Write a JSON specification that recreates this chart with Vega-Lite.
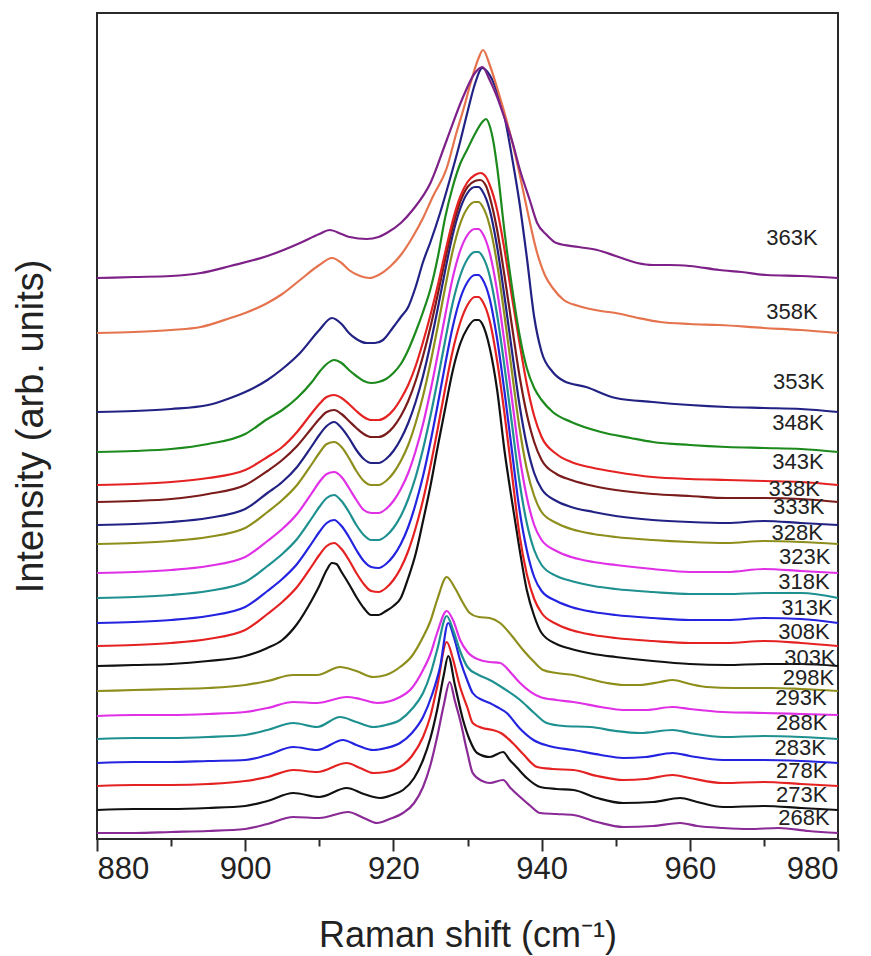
{
"$schema": "https://vega.github.io/schema/vega-lite/v6.json",
"width": 741, "height": 826,
"autosize": {"type": "none"},
"padding": {"left": 97, "top": 13, "right": 33, "bottom": 117},
"background": "white",
"config": {"view": {"stroke": "#2a2a2a", "strokeWidth": 2}, "font": "Liberation Sans"},
"datasets": {
"spectra": [
{"s":"268K","x":880,"y":6},{"s":"268K","x":885,"y":6},{"s":"268K","x":890,"y":7},{"s":"268K","x":895,"y":8},{"s":"268K","x":900,"y":10},{"s":"268K","x":903,"y":15},{"s":"268K","x":906.5,"y":22},{"s":"268K","x":910,"y":21},{"s":"268K","x":913.9,"y":27},{"s":"268K","x":916,"y":21},{"s":"268K","x":917.8,"y":16},{"s":"268K","x":919.5,"y":20},{"s":"268K","x":921.3,"y":26},{"s":"268K","x":922.8,"y":36},{"s":"268K","x":924,"y":52},{"s":"268K","x":925,"y":74},{"s":"268K","x":925.9,"y":102},{"s":"268K","x":926.8,"y":134},{"s":"268K","x":927.6,"y":157},{"s":"268K","x":928.3,"y":138},{"s":"268K","x":929,"y":119},{"s":"268K","x":930,"y":86},{"s":"268K","x":930.7,"y":66},{"s":"268K","x":932,"y":58},{"s":"268K","x":933,"y":56},{"s":"268K","x":934.8,"y":59},{"s":"268K","x":935.8,"y":51},{"s":"268K","x":937.1,"y":42},{"s":"268K","x":938.5,"y":33},{"s":"268K","x":939.8,"y":26},{"s":"268K","x":942,"y":25},{"s":"268K","x":944.3,"y":24},{"s":"268K","x":947.5,"y":17},{"s":"268K","x":951,"y":12},{"s":"268K","x":955,"y":13},{"s":"268K","x":958.7,"y":16},{"s":"268K","x":961,"y":13},{"s":"268K","x":964.5,"y":11},{"s":"268K","x":968,"y":10},{"s":"268K","x":972,"y":11},{"s":"268K","x":976,"y":8},{"s":"268K","x":980,"y":6},
{"s":"273K","x":880,"y":29},{"s":"273K","x":885,"y":30},{"s":"273K","x":890,"y":30},{"s":"273K","x":895,"y":31},{"s":"273K","x":900,"y":33},{"s":"273K","x":903,"y":38},{"s":"273K","x":906.5,"y":46},{"s":"273K","x":910,"y":42},{"s":"273K","x":913.7,"y":51},{"s":"273K","x":916,"y":45},{"s":"273K","x":918.2,"y":41},{"s":"273K","x":919.8,"y":44},{"s":"273K","x":921.3,"y":49},{"s":"273K","x":922.8,"y":61},{"s":"273K","x":924,"y":79},{"s":"273K","x":925,"y":101},{"s":"273K","x":925.9,"y":129},{"s":"273K","x":926.8,"y":164},{"s":"273K","x":927.4,"y":183},{"s":"273K","x":928.3,"y":154},{"s":"273K","x":929.4,"y":119},{"s":"273K","x":930.3,"y":99},{"s":"273K","x":931.3,"y":86},{"s":"273K","x":933,"y":82},{"s":"273K","x":934.8,"y":87},{"s":"273K","x":935.7,"y":79},{"s":"273K","x":936.6,"y":72},{"s":"273K","x":938,"y":61},{"s":"273K","x":939.8,"y":52},{"s":"273K","x":942,"y":50},{"s":"273K","x":944.3,"y":49},{"s":"273K","x":947.5,"y":41},{"s":"273K","x":951,"y":36},{"s":"273K","x":955,"y":37},{"s":"273K","x":958.7,"y":41},{"s":"273K","x":961,"y":37},{"s":"273K","x":964.5,"y":32},{"s":"273K","x":970,"y":33},{"s":"273K","x":975,"y":31},{"s":"273K","x":980,"y":29},
{"s":"278K","x":880,"y":53},{"s":"278K","x":885,"y":54},{"s":"278K","x":890,"y":54},{"s":"278K","x":895,"y":55},{"s":"278K","x":900,"y":58},{"s":"278K","x":903,"y":62},{"s":"278K","x":906.5,"y":69},{"s":"278K","x":909.7,"y":67},{"s":"278K","x":913.7,"y":76},{"s":"278K","x":915.5,"y":71},{"s":"278K","x":917.3,"y":66},{"s":"278K","x":919,"y":67},{"s":"278K","x":920.9,"y":72},{"s":"278K","x":922.5,"y":83},{"s":"278K","x":924,"y":102},{"s":"278K","x":925,"y":123},{"s":"278K","x":925.9,"y":152},{"s":"278K","x":927.2,"y":197},{"s":"278K","x":928,"y":181},{"s":"278K","x":929,"y":152},{"s":"278K","x":930,"y":131},{"s":"278K","x":930.7,"y":116},{"s":"278K","x":932,"y":111},{"s":"278K","x":933.4,"y":109},{"s":"278K","x":934.5,"y":106},{"s":"278K","x":936.1,"y":96},{"s":"278K","x":937.5,"y":85},{"s":"278K","x":939.4,"y":72},{"s":"278K","x":941.5,"y":70},{"s":"278K","x":944.3,"y":69},{"s":"278K","x":947.5,"y":63},{"s":"278K","x":951,"y":59},{"s":"278K","x":954,"y":60},{"s":"278K","x":957.7,"y":64},{"s":"278K","x":960,"y":61},{"s":"278K","x":964.5,"y":56},{"s":"278K","x":970,"y":57},{"s":"278K","x":975,"y":55},{"s":"278K","x":980,"y":53},
{"s":"283K","x":880,"y":76},{"s":"283K","x":885,"y":77},{"s":"283K","x":890,"y":77},{"s":"283K","x":895,"y":78},{"s":"283K","x":900,"y":79},{"s":"283K","x":903,"y":84},{"s":"283K","x":906.5,"y":92},{"s":"283K","x":909.7,"y":89},{"s":"283K","x":913.2,"y":99},{"s":"283K","x":915,"y":94},{"s":"283K","x":917.3,"y":89},{"s":"283K","x":919,"y":91},{"s":"283K","x":920.9,"y":96},{"s":"283K","x":922.5,"y":106},{"s":"283K","x":924,"y":122},{"s":"283K","x":925.2,"y":144},{"s":"283K","x":926.3,"y":172},{"s":"283K","x":927.4,"y":216},{"s":"283K","x":928.2,"y":201},{"s":"283K","x":929,"y":179},{"s":"283K","x":930,"y":158},{"s":"283K","x":930.7,"y":146},{"s":"283K","x":932,"y":139},{"s":"283K","x":933,"y":136},{"s":"283K","x":934,"y":132},{"s":"283K","x":935.3,"y":126},{"s":"283K","x":937,"y":111},{"s":"283K","x":938.9,"y":99},{"s":"283K","x":941,"y":93},{"s":"283K","x":944.3,"y":89},{"s":"283K","x":948,"y":84},{"s":"283K","x":951,"y":81},{"s":"283K","x":954,"y":82},{"s":"283K","x":957.7,"y":86},{"s":"283K","x":960,"y":83},{"s":"283K","x":964.5,"y":79},{"s":"283K","x":970,"y":79},{"s":"283K","x":975,"y":78},{"s":"283K","x":980,"y":76},
{"s":"288K","x":880,"y":100},{"s":"288K","x":885,"y":101},{"s":"288K","x":890,"y":101},{"s":"288K","x":895,"y":102},{"s":"288K","x":900,"y":104},{"s":"288K","x":903,"y":109},{"s":"288K","x":906.5,"y":116},{"s":"288K","x":909.7,"y":112},{"s":"288K","x":912.8,"y":122},{"s":"288K","x":915,"y":117},{"s":"288K","x":917.3,"y":112},{"s":"288K","x":919,"y":114},{"s":"288K","x":920.9,"y":119},{"s":"288K","x":922.5,"y":130},{"s":"288K","x":924,"y":146},{"s":"288K","x":925,"y":165},{"s":"288K","x":925.9,"y":189},{"s":"288K","x":927.2,"y":223},{"s":"288K","x":928.1,"y":208},{"s":"288K","x":929,"y":188},{"s":"288K","x":930,"y":172},{"s":"288K","x":931.5,"y":164},{"s":"288K","x":933,"y":159},{"s":"288K","x":935,"y":150},{"s":"288K","x":937.1,"y":139},{"s":"288K","x":939,"y":126},{"s":"288K","x":940.7,"y":116},{"s":"288K","x":943,"y":113},{"s":"288K","x":946.6,"y":112},{"s":"288K","x":950,"y":108},{"s":"288K","x":953.3,"y":106},{"s":"288K","x":957.7,"y":109},{"s":"288K","x":960,"y":106},{"s":"288K","x":964.5,"y":102},{"s":"288K","x":970,"y":103},{"s":"288K","x":975,"y":102},{"s":"288K","x":980,"y":100},
{"s":"293K","x":880,"y":123},{"s":"293K","x":885,"y":124},{"s":"293K","x":890,"y":124},{"s":"293K","x":895,"y":125},{"s":"293K","x":900,"y":127},{"s":"293K","x":903,"y":131},{"s":"293K","x":906.5,"y":137},{"s":"293K","x":909.7,"y":136},{"s":"293K","x":913.7,"y":142},{"s":"293K","x":915.5,"y":140},{"s":"293K","x":917.8,"y":136},{"s":"293K","x":920.9,"y":142},{"s":"293K","x":922.5,"y":151},{"s":"293K","x":924,"y":169},{"s":"293K","x":925,"y":185},{"s":"293K","x":925.9,"y":206},{"s":"293K","x":927.2,"y":228},{"s":"293K","x":928.1,"y":218},{"s":"293K","x":929,"y":199},{"s":"293K","x":930,"y":187},{"s":"293K","x":931.7,"y":179},{"s":"293K","x":933,"y":177},{"s":"293K","x":934.4,"y":176},{"s":"293K","x":936,"y":165},{"s":"293K","x":937.1,"y":156},{"s":"293K","x":939.8,"y":142},{"s":"293K","x":942,"y":139},{"s":"293K","x":944.3,"y":137},{"s":"293K","x":948,"y":132},{"s":"293K","x":951,"y":129},{"s":"293K","x":954,"y":129},{"s":"293K","x":957.7,"y":132},{"s":"293K","x":960,"y":130},{"s":"293K","x":964.5,"y":127},{"s":"293K","x":970,"y":126},{"s":"293K","x":975,"y":125},{"s":"293K","x":980,"y":124},
{"s":"298K","x":880,"y":148},{"s":"298K","x":885,"y":149},{"s":"298K","x":890,"y":150},{"s":"298K","x":895,"y":151},{"s":"298K","x":900,"y":154},{"s":"298K","x":903,"y":158},{"s":"298K","x":906.5,"y":164},{"s":"298K","x":909.7,"y":164},{"s":"298K","x":912.8,"y":172},{"s":"298K","x":915,"y":168},{"s":"298K","x":917.3,"y":162},{"s":"298K","x":919,"y":164},{"s":"298K","x":920.9,"y":172},{"s":"298K","x":922.5,"y":183},{"s":"298K","x":924,"y":202},{"s":"298K","x":925,"y":218},{"s":"298K","x":925.9,"y":239},{"s":"298K","x":927.2,"y":262},{"s":"298K","x":928.3,"y":251},{"s":"298K","x":929.4,"y":236},{"s":"298K","x":930.3,"y":226},{"s":"298K","x":931.5,"y":222},{"s":"298K","x":933,"y":221},{"s":"298K","x":934.4,"y":216},{"s":"298K","x":936,"y":203},{"s":"298K","x":937.5,"y":189},{"s":"298K","x":939,"y":177},{"s":"298K","x":940.2,"y":169},{"s":"298K","x":942,"y":166},{"s":"298K","x":944.3,"y":164},{"s":"298K","x":946.5,"y":160},{"s":"298K","x":948.8,"y":156},{"s":"298K","x":951,"y":154},{"s":"298K","x":953.3,"y":154},{"s":"298K","x":956,"y":157},{"s":"298K","x":957.7,"y":159},{"s":"298K","x":960,"y":155},{"s":"298K","x":962.3,"y":152},{"s":"298K","x":966,"y":151},{"s":"298K","x":971,"y":151},{"s":"298K","x":975,"y":150},{"s":"298K","x":980,"y":148},
{"s":"303K","x":880,"y":173},{"s":"303K","x":885,"y":174},{"s":"303K","x":890,"y":175},{"s":"303K","x":895,"y":178},{"s":"303K","x":900,"y":183},{"s":"303K","x":903,"y":191},{"s":"303K","x":905,"y":199},{"s":"303K","x":907,"y":215},{"s":"303K","x":909,"y":239},{"s":"303K","x":910,"y":253},{"s":"303K","x":911,"y":269},{"s":"303K","x":911.7,"y":276},{"s":"303K","x":912.3,"y":275},{"s":"303K","x":913,"y":267},{"s":"303K","x":914,"y":255},{"s":"303K","x":915,"y":242},{"s":"303K","x":916,"y":231},{"s":"303K","x":917,"y":224},{"s":"303K","x":918,"y":224},{"s":"303K","x":919,"y":228},{"s":"303K","x":920,"y":233},{"s":"303K","x":921,"y":241},{"s":"303K","x":922,"y":261},{"s":"303K","x":923,"y":285},{"s":"303K","x":924,"y":318},{"s":"303K","x":925,"y":353},{"s":"303K","x":926,"y":393},{"s":"303K","x":927,"y":431},{"s":"303K","x":928,"y":468},{"s":"303K","x":929,"y":495},{"s":"303K","x":930,"y":511},{"s":"303K","x":931,"y":519},{"s":"303K","x":931.5,"y":519},{"s":"303K","x":932,"y":515},{"s":"303K","x":933,"y":491},{"s":"303K","x":934,"y":449},{"s":"303K","x":935,"y":388},{"s":"303K","x":936,"y":338},{"s":"303K","x":937,"y":291},{"s":"303K","x":938,"y":249},{"s":"303K","x":939,"y":223},{"s":"303K","x":940,"y":206},{"s":"303K","x":942,"y":195},{"s":"303K","x":944,"y":190},{"s":"303K","x":947,"y":185},{"s":"303K","x":950,"y":182},{"s":"303K","x":955,"y":178},{"s":"303K","x":960,"y":175},{"s":"303K","x":965,"y":174},{"s":"303K","x":970,"y":175},{"s":"303K","x":975,"y":175},{"s":"303K","x":980,"y":173},
{"s":"308K","x":880,"y":193},{"s":"308K","x":885,"y":194},{"s":"308K","x":890,"y":196},{"s":"308K","x":895,"y":200},{"s":"308K","x":900,"y":209},{"s":"308K","x":903,"y":225},{"s":"308K","x":905,"y":237},{"s":"308K","x":907,"y":252},{"s":"308K","x":909,"y":273},{"s":"308K","x":910,"y":284},{"s":"308K","x":911,"y":293},{"s":"308K","x":912,"y":296},{"s":"308K","x":913,"y":290},{"s":"308K","x":914,"y":279},{"s":"308K","x":915,"y":266},{"s":"308K","x":916,"y":255},{"s":"308K","x":917,"y":248},{"s":"308K","x":918,"y":247},{"s":"308K","x":919,"y":251},{"s":"308K","x":920,"y":259},{"s":"308K","x":921,"y":271},{"s":"308K","x":922,"y":288},{"s":"308K","x":923,"y":311},{"s":"308K","x":924,"y":339},{"s":"308K","x":925,"y":373},{"s":"308K","x":926,"y":411},{"s":"308K","x":927,"y":451},{"s":"308K","x":928,"y":488},{"s":"308K","x":929,"y":516},{"s":"308K","x":930,"y":534},{"s":"308K","x":931,"y":542},{"s":"308K","x":931.5,"y":542},{"s":"308K","x":932,"y":538},{"s":"308K","x":933,"y":518},{"s":"308K","x":934,"y":478},{"s":"308K","x":935,"y":425},{"s":"308K","x":936,"y":365},{"s":"308K","x":937,"y":305},{"s":"308K","x":938,"y":265},{"s":"308K","x":939,"y":240},{"s":"308K","x":940,"y":226},{"s":"308K","x":942,"y":215},{"s":"308K","x":944,"y":209},{"s":"308K","x":947,"y":204},{"s":"308K","x":950,"y":201},{"s":"308K","x":955,"y":198},{"s":"308K","x":960,"y":196},{"s":"308K","x":965,"y":196},{"s":"308K","x":970,"y":198},{"s":"308K","x":975,"y":196},{"s":"308K","x":980,"y":193},
{"s":"313K","x":880,"y":216},{"s":"313K","x":885,"y":217},{"s":"313K","x":890,"y":219},{"s":"313K","x":895,"y":223},{"s":"313K","x":900,"y":232},{"s":"313K","x":903,"y":248},{"s":"313K","x":905,"y":260},{"s":"313K","x":907,"y":275},{"s":"313K","x":909,"y":296},{"s":"313K","x":910,"y":307},{"s":"313K","x":911,"y":316},{"s":"313K","x":912,"y":319},{"s":"313K","x":913,"y":313},{"s":"313K","x":914,"y":302},{"s":"313K","x":915,"y":289},{"s":"313K","x":916,"y":278},{"s":"313K","x":917,"y":272},{"s":"313K","x":918,"y":271},{"s":"313K","x":919,"y":275},{"s":"313K","x":920,"y":283},{"s":"313K","x":921,"y":295},{"s":"313K","x":922,"y":312},{"s":"313K","x":923,"y":335},{"s":"313K","x":924,"y":363},{"s":"313K","x":925,"y":397},{"s":"313K","x":926,"y":435},{"s":"313K","x":927,"y":475},{"s":"313K","x":928,"y":512},{"s":"313K","x":929,"y":540},{"s":"313K","x":930,"y":557},{"s":"313K","x":931,"y":564},{"s":"313K","x":931.5,"y":564},{"s":"313K","x":932,"y":560},{"s":"313K","x":933,"y":540},{"s":"313K","x":934,"y":500},{"s":"313K","x":935,"y":447},{"s":"313K","x":936,"y":388},{"s":"313K","x":937,"y":330},{"s":"313K","x":938,"y":289},{"s":"313K","x":939,"y":262},{"s":"313K","x":940,"y":248},{"s":"313K","x":942,"y":238},{"s":"313K","x":944,"y":232},{"s":"313K","x":947,"y":227},{"s":"313K","x":950,"y":224},{"s":"313K","x":955,"y":221},{"s":"313K","x":960,"y":219},{"s":"313K","x":965,"y":219},{"s":"313K","x":970,"y":221},{"s":"313K","x":975,"y":220},{"s":"313K","x":980,"y":216},
{"s":"318K","x":880,"y":241},{"s":"318K","x":885,"y":242},{"s":"318K","x":890,"y":244},{"s":"318K","x":895,"y":248},{"s":"318K","x":900,"y":257},{"s":"318K","x":903,"y":273},{"s":"318K","x":905,"y":285},{"s":"318K","x":907,"y":300},{"s":"318K","x":909,"y":321},{"s":"318K","x":910,"y":332},{"s":"318K","x":911,"y":341},{"s":"318K","x":912,"y":344},{"s":"318K","x":913,"y":338},{"s":"318K","x":914,"y":327},{"s":"318K","x":915,"y":314},{"s":"318K","x":916,"y":304},{"s":"318K","x":917,"y":299},{"s":"318K","x":918,"y":299},{"s":"318K","x":919,"y":303},{"s":"318K","x":920,"y":311},{"s":"318K","x":921,"y":323},{"s":"318K","x":922,"y":340},{"s":"318K","x":923,"y":362},{"s":"318K","x":924,"y":390},{"s":"318K","x":925,"y":423},{"s":"318K","x":926,"y":460},{"s":"318K","x":927,"y":499},{"s":"318K","x":928,"y":536},{"s":"318K","x":929,"y":563},{"s":"318K","x":930,"y":580},{"s":"318K","x":931,"y":587},{"s":"318K","x":931.5,"y":587},{"s":"318K","x":932,"y":583},{"s":"318K","x":933,"y":563},{"s":"318K","x":934,"y":524},{"s":"318K","x":935,"y":472},{"s":"318K","x":936,"y":415},{"s":"318K","x":937,"y":358},{"s":"318K","x":938,"y":316},{"s":"318K","x":939,"y":289},{"s":"318K","x":940,"y":274},{"s":"318K","x":942,"y":263},{"s":"318K","x":944,"y":258},{"s":"318K","x":947,"y":253},{"s":"318K","x":950,"y":250},{"s":"318K","x":955,"y":247},{"s":"318K","x":960,"y":245},{"s":"318K","x":965,"y":245},{"s":"318K","x":970,"y":246},{"s":"318K","x":975,"y":246},{"s":"318K","x":980,"y":241},
{"s":"323K","x":880,"y":266},{"s":"323K","x":885,"y":267},{"s":"323K","x":890,"y":269},{"s":"323K","x":895,"y":273},{"s":"323K","x":900,"y":282},{"s":"323K","x":903,"y":298},{"s":"323K","x":905,"y":310},{"s":"323K","x":907,"y":325},{"s":"323K","x":909,"y":346},{"s":"323K","x":910,"y":357},{"s":"323K","x":911,"y":365},{"s":"323K","x":912,"y":367},{"s":"323K","x":913,"y":362},{"s":"323K","x":914,"y":351},{"s":"323K","x":915,"y":339},{"s":"323K","x":916,"y":329},{"s":"323K","x":917,"y":326},{"s":"323K","x":918,"y":326},{"s":"323K","x":919,"y":330},{"s":"323K","x":920,"y":338},{"s":"323K","x":921,"y":350},{"s":"323K","x":922,"y":366},{"s":"323K","x":923,"y":388},{"s":"323K","x":924,"y":415},{"s":"323K","x":925,"y":448},{"s":"323K","x":926,"y":485},{"s":"323K","x":927,"y":524},{"s":"323K","x":928,"y":561},{"s":"323K","x":929,"y":588},{"s":"323K","x":930,"y":604},{"s":"323K","x":931,"y":610},{"s":"323K","x":931.5,"y":610},{"s":"323K","x":932,"y":606},{"s":"323K","x":933,"y":586},{"s":"323K","x":934,"y":548},{"s":"323K","x":935,"y":496},{"s":"323K","x":936,"y":440},{"s":"323K","x":937,"y":384},{"s":"323K","x":938,"y":342},{"s":"323K","x":939,"y":314},{"s":"323K","x":940,"y":299},{"s":"323K","x":942,"y":288},{"s":"323K","x":944,"y":282},{"s":"323K","x":947,"y":277},{"s":"323K","x":950,"y":274},{"s":"323K","x":955,"y":270},{"s":"323K","x":960,"y":267},{"s":"323K","x":965,"y":267},{"s":"323K","x":970,"y":270},{"s":"323K","x":975,"y":268},{"s":"323K","x":980,"y":266},
{"s":"328K","x":880,"y":295},{"s":"328K","x":885,"y":296},{"s":"328K","x":890,"y":298},{"s":"328K","x":895,"y":302},{"s":"328K","x":900,"y":311},{"s":"328K","x":903,"y":327},{"s":"328K","x":905,"y":339},{"s":"328K","x":907,"y":354},{"s":"328K","x":909,"y":375},{"s":"328K","x":910,"y":386},{"s":"328K","x":911,"y":395},{"s":"328K","x":912,"y":397},{"s":"328K","x":913,"y":392},{"s":"328K","x":914,"y":381},{"s":"328K","x":915,"y":368},{"s":"328K","x":916,"y":358},{"s":"328K","x":917,"y":354},{"s":"328K","x":918,"y":354},{"s":"328K","x":919,"y":358},{"s":"328K","x":920,"y":366},{"s":"328K","x":921,"y":378},{"s":"328K","x":922,"y":394},{"s":"328K","x":923,"y":416},{"s":"328K","x":924,"y":443},{"s":"328K","x":925,"y":476},{"s":"328K","x":926,"y":513},{"s":"328K","x":927,"y":552},{"s":"328K","x":928,"y":588},{"s":"328K","x":929,"y":615},{"s":"328K","x":930,"y":631},{"s":"328K","x":931,"y":637},{"s":"328K","x":931.5,"y":637},{"s":"328K","x":932,"y":633},{"s":"328K","x":933,"y":613},{"s":"328K","x":934,"y":575},{"s":"328K","x":935,"y":523},{"s":"328K","x":936,"y":467},{"s":"328K","x":937,"y":412},{"s":"328K","x":938,"y":370},{"s":"328K","x":939,"y":343},{"s":"328K","x":940,"y":327},{"s":"328K","x":942,"y":316},{"s":"328K","x":944,"y":310},{"s":"328K","x":947,"y":305},{"s":"328K","x":950,"y":302},{"s":"328K","x":955,"y":299},{"s":"328K","x":960,"y":297},{"s":"328K","x":965,"y":296},{"s":"328K","x":970,"y":298},{"s":"328K","x":975,"y":297},{"s":"328K","x":980,"y":295},
{"s":"333K","x":880,"y":314},{"s":"333K","x":885,"y":315},{"s":"333K","x":890,"y":317},{"s":"333K","x":895,"y":321},{"s":"333K","x":900,"y":330},{"s":"333K","x":903,"y":346},{"s":"333K","x":905,"y":357},{"s":"333K","x":907,"y":372},{"s":"333K","x":909,"y":393},{"s":"333K","x":910,"y":404},{"s":"333K","x":911,"y":413},{"s":"333K","x":912,"y":417},{"s":"333K","x":913,"y":411},{"s":"333K","x":914,"y":401},{"s":"333K","x":915,"y":389},{"s":"333K","x":916,"y":380},{"s":"333K","x":917,"y":376},{"s":"333K","x":918,"y":376},{"s":"333K","x":919,"y":380},{"s":"333K","x":920,"y":388},{"s":"333K","x":921,"y":400},{"s":"333K","x":922,"y":416},{"s":"333K","x":923,"y":437},{"s":"333K","x":924,"y":463},{"s":"333K","x":925,"y":495},{"s":"333K","x":926,"y":531},{"s":"333K","x":927,"y":569},{"s":"333K","x":928,"y":604},{"s":"333K","x":929,"y":630},{"s":"333K","x":930,"y":646},{"s":"333K","x":931,"y":652},{"s":"333K","x":931.5,"y":652},{"s":"333K","x":932,"y":648},{"s":"333K","x":933,"y":629},{"s":"333K","x":934,"y":592},{"s":"333K","x":935,"y":542},{"s":"333K","x":936,"y":488},{"s":"333K","x":937,"y":435},{"s":"333K","x":938,"y":394},{"s":"333K","x":939,"y":366},{"s":"333K","x":940,"y":350},{"s":"333K","x":942,"y":338},{"s":"333K","x":944,"y":332},{"s":"333K","x":947,"y":327},{"s":"333K","x":950,"y":323},{"s":"333K","x":955,"y":319},{"s":"333K","x":960,"y":317},{"s":"333K","x":965,"y":316},{"s":"333K","x":970,"y":318},{"s":"333K","x":975,"y":316},{"s":"333K","x":980,"y":314},
{"s":"338K","x":880,"y":337},{"s":"338K","x":885,"y":338},{"s":"338K","x":890,"y":340},{"s":"338K","x":895,"y":345},{"s":"338K","x":900,"y":354},{"s":"338K","x":903,"y":368},{"s":"338K","x":905,"y":379},{"s":"338K","x":907,"y":393},{"s":"338K","x":909,"y":411},{"s":"338K","x":910,"y":420},{"s":"338K","x":911,"y":427},{"s":"338K","x":912,"y":429},{"s":"338K","x":913,"y":425},{"s":"338K","x":914,"y":418},{"s":"338K","x":915,"y":411},{"s":"338K","x":916,"y":405},{"s":"338K","x":917,"y":402},{"s":"338K","x":918,"y":402},{"s":"338K","x":919,"y":405},{"s":"338K","x":920,"y":412},{"s":"338K","x":921,"y":423},{"s":"338K","x":922,"y":438},{"s":"338K","x":923,"y":458},{"s":"338K","x":924,"y":483},{"s":"338K","x":925,"y":512},{"s":"338K","x":926,"y":545},{"s":"338K","x":927,"y":580},{"s":"338K","x":928,"y":612},{"s":"338K","x":929,"y":637},{"s":"338K","x":930,"y":652},{"s":"338K","x":931,"y":658},{"s":"338K","x":931.7,"y":659},{"s":"338K","x":932.5,"y":653},{"s":"338K","x":933,"y":642},{"s":"338K","x":934,"y":609},{"s":"338K","x":935,"y":563},{"s":"338K","x":936,"y":513},{"s":"338K","x":937,"y":464},{"s":"338K","x":938,"y":425},{"s":"338K","x":939,"y":397},{"s":"338K","x":940,"y":379},{"s":"338K","x":942,"y":365},{"s":"338K","x":944,"y":359},{"s":"338K","x":947,"y":353},{"s":"338K","x":950,"y":349},{"s":"338K","x":955,"y":345},{"s":"338K","x":960,"y":343},{"s":"338K","x":965,"y":341},{"s":"338K","x":970,"y":341},{"s":"338K","x":975,"y":340},{"s":"338K","x":980,"y":337},
{"s":"343K","x":880,"y":354},{"s":"343K","x":885,"y":355},{"s":"343K","x":890,"y":357},{"s":"343K","x":895,"y":361},{"s":"343K","x":900,"y":369},{"s":"343K","x":903,"y":382},{"s":"343K","x":905,"y":392},{"s":"343K","x":907,"y":407},{"s":"343K","x":909,"y":426},{"s":"343K","x":910,"y":435},{"s":"343K","x":911,"y":442},{"s":"343K","x":912,"y":444},{"s":"343K","x":913,"y":441},{"s":"343K","x":914,"y":435},{"s":"343K","x":915,"y":428},{"s":"343K","x":916,"y":422},{"s":"343K","x":917,"y":419},{"s":"343K","x":918,"y":419},{"s":"343K","x":919,"y":422},{"s":"343K","x":920,"y":429},{"s":"343K","x":921,"y":440},{"s":"343K","x":922,"y":454},{"s":"343K","x":923,"y":473},{"s":"343K","x":924,"y":497},{"s":"343K","x":925,"y":524},{"s":"343K","x":926,"y":554},{"s":"343K","x":927,"y":587},{"s":"343K","x":928,"y":618},{"s":"343K","x":929,"y":642},{"s":"343K","x":930,"y":657},{"s":"343K","x":931,"y":664},{"s":"343K","x":931.8,"y":666},{"s":"343K","x":932.5,"y":662},{"s":"343K","x":933,"y":654},{"s":"343K","x":934,"y":629},{"s":"343K","x":935,"y":589},{"s":"343K","x":936,"y":542},{"s":"343K","x":937,"y":497},{"s":"343K","x":938,"y":455},{"s":"343K","x":939,"y":423},{"s":"343K","x":940,"y":402},{"s":"343K","x":942,"y":385},{"s":"343K","x":944,"y":377},{"s":"343K","x":947,"y":371},{"s":"343K","x":950,"y":367},{"s":"343K","x":955,"y":362},{"s":"343K","x":960,"y":360},{"s":"343K","x":965,"y":359},{"s":"343K","x":970,"y":358},{"s":"343K","x":975,"y":357},{"s":"343K","x":980,"y":354},
{"s":"348K","x":880,"y":387},{"s":"348K","x":885,"y":388},{"s":"348K","x":890,"y":390},{"s":"348K","x":895,"y":395},{"s":"348K","x":900,"y":405},{"s":"348K","x":903,"y":420},{"s":"348K","x":905,"y":429},{"s":"348K","x":907,"y":441},{"s":"348K","x":909,"y":457},{"s":"348K","x":910,"y":467},{"s":"348K","x":911,"y":475},{"s":"348K","x":912,"y":479},{"s":"348K","x":913,"y":476},{"s":"348K","x":914,"y":469},{"s":"348K","x":915,"y":463},{"s":"348K","x":916,"y":458},{"s":"348K","x":917,"y":456},{"s":"348K","x":918,"y":457},{"s":"348K","x":919,"y":460},{"s":"348K","x":920,"y":466},{"s":"348K","x":921,"y":475},{"s":"348K","x":922,"y":489},{"s":"348K","x":923,"y":507},{"s":"348K","x":924,"y":527},{"s":"348K","x":925,"y":550},{"s":"348K","x":926,"y":582},{"s":"348K","x":927,"y":622},{"s":"348K","x":928,"y":652},{"s":"348K","x":929,"y":675},{"s":"348K","x":930,"y":690},{"s":"348K","x":931,"y":705},{"s":"348K","x":932,"y":717},{"s":"348K","x":932.5,"y":720},{"s":"348K","x":933,"y":713},{"s":"348K","x":933.5,"y":697},{"s":"348K","x":934,"y":672},{"s":"348K","x":935,"y":607},{"s":"348K","x":936,"y":552},{"s":"348K","x":937,"y":505},{"s":"348K","x":938,"y":471},{"s":"348K","x":939,"y":451},{"s":"348K","x":940,"y":439},{"s":"348K","x":941.5,"y":427},{"s":"348K","x":944,"y":417},{"s":"348K","x":948,"y":407},{"s":"348K","x":952,"y":401},{"s":"348K","x":955,"y":397},{"s":"348K","x":960,"y":394},{"s":"348K","x":965,"y":392},{"s":"348K","x":970,"y":391},{"s":"348K","x":975,"y":390},{"s":"348K","x":980,"y":387},
{"s":"353K","x":880,"y":427},{"s":"353K","x":885,"y":428},{"s":"353K","x":890,"y":430},{"s":"353K","x":895,"y":434},{"s":"353K","x":898,"y":441},{"s":"353K","x":900,"y":447},{"s":"353K","x":903,"y":459},{"s":"353K","x":905,"y":470},{"s":"353K","x":907.4,"y":486},{"s":"353K","x":910,"y":509},{"s":"353K","x":911.7,"y":521},{"s":"353K","x":913,"y":515},{"s":"353K","x":914,"y":506},{"s":"353K","x":915,"y":500},{"s":"353K","x":916.4,"y":496},{"s":"353K","x":917.5,"y":496},{"s":"353K","x":918.6,"y":499},{"s":"353K","x":920,"y":512},{"s":"353K","x":921,"y":522},{"s":"353K","x":922,"y":532},{"s":"353K","x":923,"y":552},{"s":"353K","x":924,"y":577},{"s":"353K","x":925,"y":597},{"s":"353K","x":926.3,"y":626},{"s":"353K","x":927.6,"y":659},{"s":"353K","x":929,"y":697},{"s":"353K","x":930,"y":727},{"s":"353K","x":931,"y":755},{"s":"353K","x":932,"y":771},{"s":"353K","x":933,"y":764},{"s":"353K","x":934,"y":747},{"s":"353K","x":935,"y":722},{"s":"353K","x":936,"y":682},{"s":"353K","x":937,"y":637},{"s":"353K","x":938,"y":582},{"s":"353K","x":939,"y":522},{"s":"353K","x":940,"y":487},{"s":"353K","x":941.5,"y":467},{"s":"353K","x":943,"y":458},{"s":"353K","x":946,"y":452},{"s":"353K","x":950,"y":441},{"s":"353K","x":955,"y":437},{"s":"353K","x":960,"y":434},{"s":"353K","x":965,"y":432},{"s":"353K","x":970,"y":431},{"s":"353K","x":975,"y":430},{"s":"353K","x":980,"y":427},
{"s":"358K","x":880,"y":506},{"s":"358K","x":885,"y":507},{"s":"358K","x":890,"y":509},{"s":"358K","x":894,"y":512},{"s":"358K","x":898,"y":521},{"s":"358K","x":900,"y":526},{"s":"358K","x":903,"y":536},{"s":"358K","x":905,"y":545},{"s":"358K","x":907.4,"y":559},{"s":"358K","x":910,"y":574},{"s":"358K","x":911.7,"y":581},{"s":"358K","x":913,"y":576},{"s":"358K","x":914,"y":569},{"s":"358K","x":915.5,"y":563},{"s":"358K","x":916.8,"y":561},{"s":"358K","x":918,"y":564},{"s":"358K","x":919.5,"y":572},{"s":"358K","x":921,"y":584},{"s":"358K","x":922.6,"y":602},{"s":"358K","x":924,"y":621},{"s":"358K","x":925.3,"y":642},{"s":"358K","x":927.2,"y":671},{"s":"358K","x":928.5,"y":706},{"s":"358K","x":929.5,"y":731},{"s":"358K","x":930.5,"y":758},{"s":"358K","x":931.5,"y":781},{"s":"358K","x":932.1,"y":789},{"s":"358K","x":933,"y":774},{"s":"358K","x":934,"y":751},{"s":"358K","x":935,"y":726},{"s":"358K","x":936,"y":698},{"s":"358K","x":937,"y":666},{"s":"358K","x":938,"y":631},{"s":"358K","x":939.4,"y":586},{"s":"358K","x":940.5,"y":563},{"s":"358K","x":941.5,"y":551},{"s":"358K","x":943,"y":539},{"s":"358K","x":945,"y":533},{"s":"358K","x":948,"y":528},{"s":"358K","x":950,"y":526},{"s":"358K","x":953,"y":521},{"s":"358K","x":956,"y":517},{"s":"358K","x":960,"y":515},{"s":"358K","x":964,"y":514},{"s":"358K","x":970,"y":511},{"s":"358K","x":975,"y":509},{"s":"358K","x":980,"y":506},
{"s":"363K","x":880,"y":561},{"s":"363K","x":885,"y":562},{"s":"363K","x":890,"y":563},{"s":"363K","x":894,"y":566},{"s":"363K","x":898,"y":573},{"s":"363K","x":903,"y":583},{"s":"363K","x":907.4,"y":596},{"s":"363K","x":910,"y":605},{"s":"363K","x":911.4,"y":609},{"s":"363K","x":913,"y":605},{"s":"363K","x":914.1,"y":602},{"s":"363K","x":916.4,"y":600},{"s":"363K","x":918,"y":602},{"s":"363K","x":919.1,"y":606},{"s":"363K","x":921,"y":616},{"s":"363K","x":922.6,"y":629},{"s":"363K","x":925,"y":656},{"s":"363K","x":927.2,"y":699},{"s":"363K","x":929.4,"y":742},{"s":"363K","x":931,"y":766},{"s":"363K","x":932,"y":772},{"s":"363K","x":933,"y":759},{"s":"363K","x":934,"y":742},{"s":"363K","x":935,"y":721},{"s":"363K","x":936.1,"y":696},{"s":"363K","x":937,"y":671},{"s":"363K","x":938.4,"y":639},{"s":"363K","x":939.4,"y":616},{"s":"363K","x":940.7,"y":604},{"s":"363K","x":942,"y":596},{"s":"363K","x":945,"y":592},{"s":"363K","x":947.5,"y":589},{"s":"363K","x":950,"y":583},{"s":"363K","x":952.9,"y":576},{"s":"363K","x":955,"y":574},{"s":"363K","x":957.3,"y":574},{"s":"363K","x":960,"y":573},{"s":"363K","x":964,"y":569},{"s":"363K","x":967,"y":567},{"s":"363K","x":970.4,"y":564},{"s":"363K","x":975,"y":563},{"s":"363K","x":980,"y":561}
],
"labels": [
{"s":"363K","x":973.8,"y":601},{"s":"358K","x":973.8,"y":527},{"s":"353K","x":974.7,"y":457},{"s":"348K","x":974.6,"y":416},{"s":"343K","x":974.6,"y":377},{"s":"338K","x":974.1,"y":350},{"s":"333K","x":974.7,"y":332},{"s":"328K","x":974.5,"y":306},{"s":"323K","x":975.5,"y":282},{"s":"318K","x":975.4,"y":257},{"s":"313K","x":975.8,"y":231},{"s":"308K","x":975.4,"y":207},{"s":"303K","x":976.2,"y":181},{"s":"298K","x":976.0,"y":161},{"s":"293K","x":975.0,"y":141},{"s":"288K","x":975.1,"y":116},{"s":"283K","x":974.9,"y":91},{"s":"278K","x":975.1,"y":68},{"s":"273K","x":975.1,"y":44},{"s":"268K","x":975.4,"y":21}
]
},
"layer": [
{
"data": {"name": "spectra"},
"mark": {"type": "line", "strokeWidth": 2.2, "interpolate": "monotone"},
"encoding": {
"x": {"field": "x", "type": "quantitative",
 "scale": {"domain": [880, 980], "nice": false, "zero": false},
 "axis": {"title": "Raman shift (cm\u207B\u00B9)", "values": [880,890,900,910,920,930,940,950,960,970,980],
  "labelExpr": "datum.value % 20 === 0 ? datum.label : ''",
  "tickSize": {"condition": {"test": "datum.value % 20 === 0", "value": 12}, "value": 7},
  "tickColor": "#2a2a2a", "tickWidth": 2, "domain": false, "grid": false,
  "labelFontSize": 31, "labelColor": "#222", "labelPadding": 3, "labelFont": "Liberation Sans",
  "titleFontSize": 36, "titleFontWeight": "normal", "titleColor": "#222", "titleFont": "Liberation Sans",
  "titleY": 107, "titleBaseline": "alphabetic"}},
"y": {"field": "y", "type": "quantitative",
 "scale": {"domain": [0, 826], "nice": false, "zero": false},
 "axis": {"title": "Intensity (arb. units)", "labels": false, "ticks": false, "domain": false, "grid": false,
  "titleFontSize": 38, "titleFontWeight": "normal", "titleColor": "#222", "titleFont": "Liberation Sans",
  "titleX": -47}},
"color": {"field": "s", "type": "nominal", "legend": null,
 "scale": {"domain": ["268K","273K","278K","283K","288K","293K","298K","303K","308K","313K","318K","323K","328K","333K","338K","343K","348K","353K","358K","363K"],
  "range": ["#8a2a96","#111111","#e52222","#2424e0","#1f9090","#e030e6","#8e8e1c","#111111","#e52222","#2424e0","#1f9090","#e030e6","#8e8e1c","#222284","#7a1c1c","#e52222","#1c8a1c","#222284","#e5734d","#7d2188"]}}
}
},
{
"data": {"name": "labels"},
"mark": {"type": "text", "fontSize": 22, "font": "Liberation Sans", "color": "#222", "align": "center", "baseline": "middle"},
"encoding": {
"x": {"field": "x", "type": "quantitative"},
"y": {"field": "y", "type": "quantitative"},
"text": {"field": "s"}
}
}
]
}
